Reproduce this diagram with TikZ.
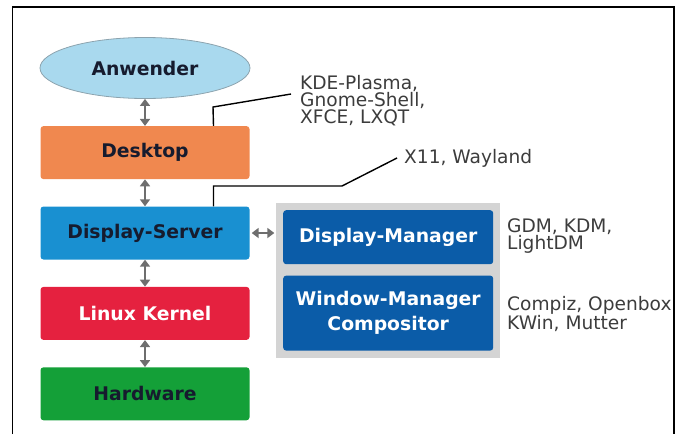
\documentclass[tikz,border=0pt]{standalone}
\usepackage{fontspec}
\setmainfont{DejaVu Sans}
\usetikzlibrary{arrows.meta,positioning,shapes.geometric,backgrounds,fit}
\definecolor{skyfill}{HTML}{A9D9EE}
\definecolor{skyline}{HTML}{8CA3AE}
\definecolor{deskorange}{HTML}{F0884F}
\definecolor{serverblue}{HTML}{1990D1}
\definecolor{kernelred}{HTML}{E5213F}
\definecolor{hwgreen}{HTML}{14A038}
\definecolor{mgrblue}{HTML}{0B5CA8}
\definecolor{panelgray}{HTML}{D4D4D4}
\definecolor{arrowgray}{HTML}{6E6E6E}
\definecolor{inkdark}{HTML}{161B2E}
\definecolor{notegray}{HTML}{3C3C3C}

\begin{document}
\begin{tikzpicture}[x=1pt,y=-1pt,
   layer/.style={rounded corners=3pt,minimum width=209pt,minimum height=53pt,inner sep=0pt,
                 font=\fontsize{18.8}{22}\selectfont\bfseries,text=inkdark},
   mgr/.style={fill=mgrblue,rounded corners=3pt,minimum width=210pt,inner sep=0pt,align=center,
               text=white,font=\fontsize{18.8}{25}\selectfont\bfseries},
   note/.style={anchor=north west,inner sep=0pt,align=left,text=notegray,
                font=\fontsize{18.6}{17}\selectfont},
   link/.style={arrowgray,line width=2.8pt,{Triangle[length=7pt,width=10pt]}-{Triangle[length=7pt,width=10pt]}},
   lead/.style={black,line width=1.4pt}]
  \useasboundingbox (0,0) rectangle (687,434);
  \draw[line width=1.4pt] (12.5,434) |- (674,7) -- (674,434);

  \node[ellipse,draw=skyline,fill=skyfill,line width=0.8pt,inner sep=0pt,
        minimum width=210pt,minimum height=61pt,
        font=\fontsize{18.8}{22}\selectfont\bfseries,text=inkdark] (user) at (145,68) {Anwender};
  \node[layer,fill=deskorange,below=27pt of user] (desk) {Desktop};
  \node[layer,fill=serverblue,below=27pt of desk] (ds) {Display-Server};
  \node[layer,fill=kernelred,text=white,below=27pt of ds] (kernel) {Linux Kernel};
  \node[layer,fill=hwgreen,below=27pt of kernel] (hw) {Hardware};

  \node[mgr,minimum height=54pt,anchor=north west] (dm) at (283,210) {Display-Manager};
  \node[mgr,minimum height=75pt,below=11pt of dm] (wm) {Window-Manager\\Compositor};
  \begin{scope}[on background layer]
    \node[fill=panelgray,inner sep=7pt,fit=(dm)(wm)] (panel) {};
  \end{scope}

  \node[note] (kde) at (300,75) {KDE-Plasma,\\Gnome-Shell,\\XFCE, LXQT};
  \node[note] (x11) at (404,149) {X11, Wayland};
  \node[note] (gdm) at (507,218) {GDM, KDM,\\LightDM};
  \node[note] (compiz) at (507,296) {Compiz, Openbox\\KWin, Mutter};

  \draw[link] (user) -- (desk);
  \draw[link] (desk) -- (ds);
  \draw[link] (ds) -- (kernel);
  \draw[link] (kernel) -- (hw);
  \draw[link,shorten <=2pt,shorten >=1.5pt] (ds.east) -- (ds.east -| panel.west);

  \coordinate (kdeknee) at (213,107);
  \coordinate (kdeend) at (291,94);
  \coordinate (x11knee) at (342,186);
  \coordinate (x11end) at (397,158);
  \draw[lead] ([xshift=68.5pt]desk.north) -- (kdeknee) -- (kdeend);
  \draw[lead] ([xshift=68.5pt]ds.north) |- (x11knee) -- (x11end);
\end{tikzpicture}
\end{document}
